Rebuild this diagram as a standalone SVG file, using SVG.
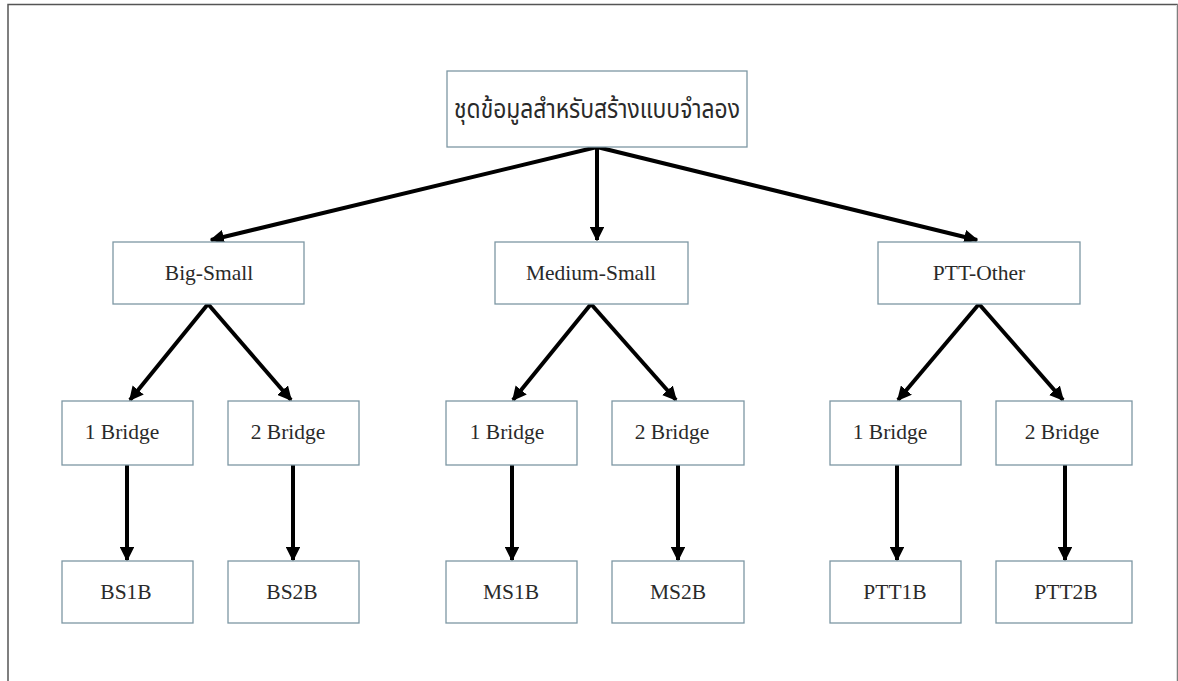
<svg xmlns="http://www.w3.org/2000/svg" width="1178" height="681" viewBox="0 0 1178 681">
<style>
.box{fill:#fff;stroke:#7d97a4;stroke-width:1.3}
.t{font-family:"Liberation Serif","Times New Roman",serif;font-size:21.5px;fill:#2a2a2a;text-anchor:middle;dominant-baseline:central}
.th{font-family:"Noto Sans Thai","Noto Sans","DejaVu Sans",sans-serif;font-size:26px;fill:#2a2a2a;text-anchor:middle}
.c{stroke:#000;stroke-width:4;fill:none;marker-end:url(#ah)}
</style>
<defs>
<marker id="ah" viewBox="0 0 10 10" refX="9" refY="5" markerWidth="3.6" markerHeight="3.6" orient="auto" markerUnits="strokeWidth">
<path d="M0,0 L10,5 L0,10 z" fill="#000"/>
</marker>
</defs>
<rect x="0" y="0" width="1178" height="681" fill="#fff"/>
<path d="M8,681 V4.5 H1177 V681" fill="none" stroke="#555" stroke-width="1.5"/>
<line x1="1176.5" y1="5" x2="1176.5" y2="681" stroke="#ddd" stroke-width="1"/>
<g id="connectors">
<line class="c" x1="597" y1="147" x2="211" y2="240"/>
<line class="c" x1="597" y1="147" x2="597" y2="240"/>
<line class="c" x1="597" y1="147" x2="977" y2="240"/>
<line class="c" x1="208" y1="304" x2="130" y2="400"/>
<line class="c" x1="208" y1="304" x2="291" y2="400"/>
<line class="c" x1="591" y1="304" x2="513" y2="400"/>
<line class="c" x1="591" y1="304" x2="676" y2="400"/>
<line class="c" x1="979" y1="304" x2="898" y2="400"/>
<line class="c" x1="979" y1="304" x2="1063" y2="400"/>
<line class="c" x1="127" y1="465" x2="127" y2="560"/>
<line class="c" x1="293" y1="465" x2="293" y2="560"/>
<line class="c" x1="512" y1="465" x2="512" y2="560"/>
<line class="c" x1="678" y1="465" x2="678" y2="560"/>
<line class="c" x1="897" y1="465" x2="897" y2="560"/>
<line class="c" x1="1065" y1="465" x2="1065" y2="560"/>
</g>
<g id="root"><rect class="box" x="447" y="71" width="300" height="76"/><text class="th" x="597" y="118" textLength="286" lengthAdjust="spacingAndGlyphs">ชุดข้อมูลสำหรับสร้างแบบจำลอง</text></g>
<g id="bigsmall"><rect class="box" x="113" y="242" width="191" height="62"/><text class="t" x="209" y="273">Big-Small</text></g>
<g id="mediumsmall"><rect class="box" x="495" y="242" width="193" height="62"/><text class="t" x="591" y="273">Medium-Small</text></g>
<g id="pttother"><rect class="box" x="878" y="242" width="202" height="62"/><text class="t" x="979" y="273">PTT-Other</text></g>
<g id="bs1"><rect class="box" x="62" y="401" width="131" height="64"/><text class="t" x="122" y="432">1 Bridge</text></g>
<g id="bs2"><rect class="box" x="228" y="401" width="131" height="64"/><text class="t" x="288" y="432">2 Bridge</text></g>
<g id="ms1"><rect class="box" x="446" y="401" width="131" height="64"/><text class="t" x="507" y="432">1 Bridge</text></g>
<g id="ms2"><rect class="box" x="612" y="401" width="132" height="64"/><text class="t" x="672" y="432">2 Bridge</text></g>
<g id="ptt1"><rect class="box" x="830" y="401" width="131" height="64"/><text class="t" x="890" y="432">1 Bridge</text></g>
<g id="ptt2"><rect class="box" x="996" y="401" width="136" height="64"/><text class="t" x="1062" y="432">2 Bridge</text></g>
<g id="bs1b"><rect class="box" x="62" y="561" width="131" height="62"/><text class="t" x="126" y="592">BS1B</text></g>
<g id="bs2b"><rect class="box" x="228" y="561" width="131" height="62"/><text class="t" x="292" y="592">BS2B</text></g>
<g id="ms1b"><rect class="box" x="446" y="561" width="131" height="62"/><text class="t" x="511" y="592">MS1B</text></g>
<g id="ms2b"><rect class="box" x="612" y="561" width="132" height="62"/><text class="t" x="678" y="592">MS2B</text></g>
<g id="ptt1b"><rect class="box" x="830" y="561" width="131" height="62"/><text class="t" x="895" y="592">PTT1B</text></g>
<g id="ptt2b"><rect class="box" x="996" y="561" width="136" height="62"/><text class="t" x="1066" y="592">PTT2B</text></g>
</svg>
